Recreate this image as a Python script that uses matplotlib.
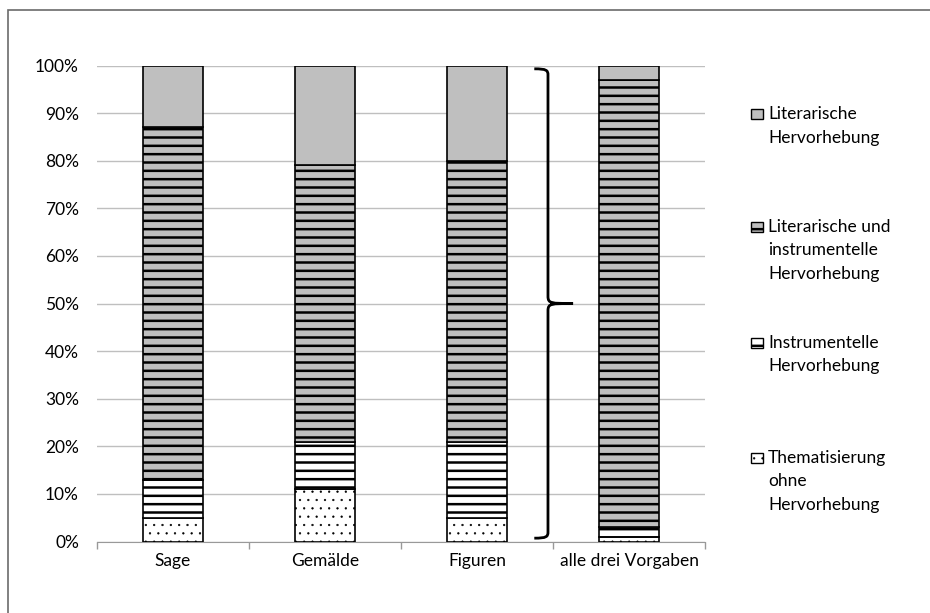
import numpy as np
import matplotlib
matplotlib.use('Agg')
from matplotlib import pyplot as plt
from matplotlib.patches import Rectangle, PathPatch
from matplotlib.path import Path

plt.rcParams['font.family'] = ['Lato', 'DejaVu Sans']
plt.rcParams['hatch.linewidth'] = 1.8

categories = ['Sage', 'Gemälde', 'Figuren', 'alle drei Vorgaben']
# shares in percent, bottom to top
thematisierung = [5, 11, 5, 1]
instrumentell = [8, 10, 16, 2]
lit_und_instr = [74, 58, 59, 94]
literarisch = [13, 21, 20, 3]

series = [thematisierung, instrumentell, lit_und_instr, literarisch]
labels = [['Thematisierung', 'ohne', 'Hervorhebung'],
          ['Instrumentelle', 'Hervorhebung'],
          ['Literarische und', 'instrumentelle', 'Hervorhebung'],
          ['Literarische', 'Hervorhebung']]
fills = ['white', 'white', '#bfbfbf', '#bfbfbf']
hatches = ['..', '--', '--', None]
hatch_lw = [0.4, 1.8, 1.8, 1.8]

W, H = 930, 613
fig = plt.figure(figsize=(W / 100, H / 100), dpi=100)

def fx(px):
    return px / W

def fy(py):
    return 1 - py / H

def thin_hatch(patch, lw):
    if hasattr(patch, 'set_hatch_linewidth'):
        patch.set_hatch_linewidth(lw)

ax = fig.add_axes([fx(97), fy(541.5), fx(705) - fx(97), fy(65.5) - fy(541.5)])

x = np.arange(len(categories))
bottom = np.zeros(len(categories))
for vals, fc, ht, hl in zip(series, fills, hatches, hatch_lw):
    bars = ax.bar(x, vals, width=0.4, bottom=bottom, color=fc, edgecolor='black',
                  linewidth=1.2, hatch=ht, zorder=3)
    for b in bars:
        thin_hatch(b, hl)
    bottom += np.array(vals)

ax.set_xlim(-0.5, len(categories) - 0.5)
ax.set_ylim(0, 100)
ax.set_yticks(np.arange(0, 101, 10))
ax.set_yticklabels([f'{v}%' for v in range(0, 101, 10)])
ax.yaxis.grid(True, color='#bfbfbf', linewidth=1.0, zorder=0)
ax.tick_params(axis='y', length=0, pad=13, labelsize=12.5)
ax.set_xticks(x)
ax.set_xticklabels(categories)
ax.set_xticks(np.arange(-0.5, len(categories)), minor=True)
ax.tick_params(axis='x', which='major', length=0, pad=8, labelsize=12.5)
ax.tick_params(axis='x', which='minor', length=5, color='#999999', width=1)
for side in ['left', 'right', 'top']:
    ax.spines[side].set_visible(False)
ax.spines['bottom'].set_color('#999999')

# curly bracket spanning 0-100 %, tip pointing right at 50 %
bx, hook, tip = 2.467, 0.09, 0.165
verts = [(bx - hook, 99.3), (bx - 0.01, 99.3), (bx, 99.0), (bx, 98.0),
         (bx, 51.5),
         (bx, 50.0), (bx + 0.02, 50.0), (bx + tip, 50.0),
         (bx + 0.02, 50.0), (bx, 50.0), (bx, 48.5),
         (bx, 2.0), (bx, 1.0), (bx - 0.01, 0.7), (bx - hook, 0.7)]
codes = [Path.MOVETO, Path.CURVE4, Path.CURVE4, Path.CURVE4,
         Path.LINETO,
         Path.CURVE4, Path.CURVE4, Path.CURVE4,
         Path.CURVE4, Path.CURVE4, Path.CURVE4,
         Path.LINETO, Path.CURVE4, Path.CURVE4, Path.CURVE4]
ax.add_patch(PathPatch(Path(verts, codes), fill=False, lw=2.0,
                       edgecolor='black', clip_on=False, zorder=4))

# legend, top entry first
first_line = [114, 227, 343, 458]
for i, k in enumerate(reversed(range(len(series)))):
    y0 = first_line[i]
    handle = Rectangle((fx(751), fy(y0 + 5)), fx(12), fy(0) - fy(10),
                       transform=fig.transFigure, facecolor=fills[k],
                       edgecolor='black', linewidth=1.0, hatch=hatches[k])
    thin_hatch(handle, hatch_lw[k])
    fig.patches.append(handle)
    for j, line in enumerate(labels[k]):
        fig.text(fx(768), fy(y0 + j * 23.5), line, fontsize=12.5,
                 va='center', ha='left')

# outer frame
fig.patches.append(Rectangle((fx(8), fy(H + 20)), fx(W + 20), fy(10) - fy(H + 20),
                             transform=fig.transFigure, fill=False,
                             edgecolor='#6b6b6b', linewidth=1.2))

fig.savefig('out.png', dpi=100)
